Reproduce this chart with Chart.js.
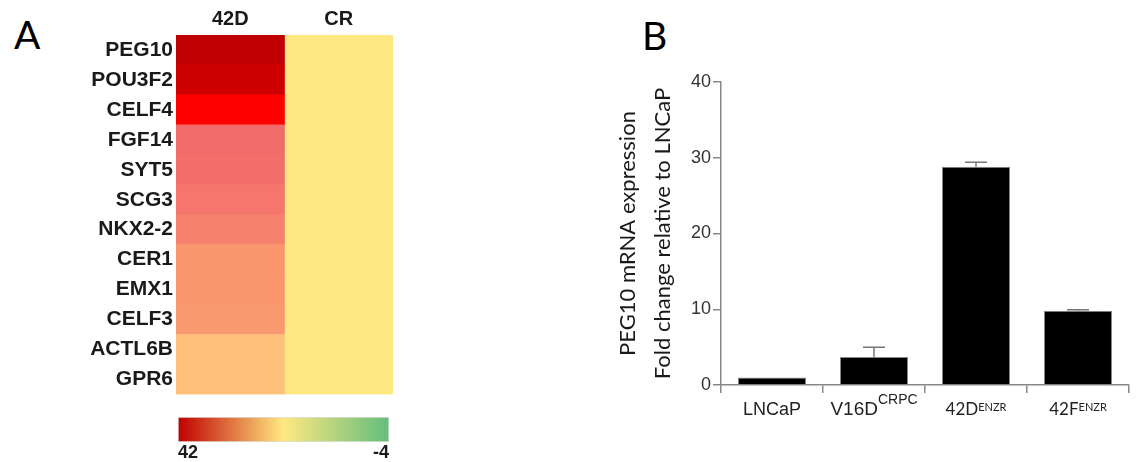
<!DOCTYPE html>
<html>
<head>
<meta charset="utf-8">
<script src="https://cdn.jsdelivr.net/npm/chart.js@4"></script>
<style>
  body { margin: 0; background: #fff; }
  #wrap { position: relative; width: 1140px; height: 462px; overflow: hidden; }
  canvas { position: absolute; }
  .panel { position: absolute; font-family: Lato, sans-serif; font-size: 39px; line-height: 1; color: #000; }
</style>
</head>
<body>
<div id="wrap">
  <div class="panel" style="left:14px;top:15px">A</div>
  <div class="panel" style="left:642px;top:16px">B</div>
  <canvas id="heat" width="400" height="410" style="left:0;top:0"></canvas>
  <canvas id="scaleBar" width="230" height="57" style="left:170px;top:405px"></canvas>
  <canvas id="bars" width="540" height="462" style="left:600px;top:0"></canvas>
</div>
<script>
// panel A - heatmap
const genes = ["PEG10","POU3F2","CELF4","FGF14","SYT5","SCG3","NKX2-2","CER1","EMX1","CELF3","ACTL6B","GPR6"];
const heatCols = ["42D","CR"];
const fold42D = [42,40,33,27,26.5,25,23,19,19,18.5,12,12];
const foldCR = [1,1,1,1,1,1,1,1,1,1,1,1];
const scaleMax = 42, scaleMin = -4;

// panel B - bars
const lines = ["LNCaP","V16D","42D","42F"];
const lineSup = ["","CRPC","ENZR","ENZR"];
const pegFold = [1.0,3.7,28.8,9.8];
const pegErr = [0,1.3,0.6,0.15];
const yTicks = [0,10,20,30,40];

// colour map of the heatmap cells (value -> colour)
const heatStops = [[42,"#c00000"],[33,"#ff0000"],[27,"#f26b6b"],[19,"#f9966e"],[12,"#fdc07b"],[1,"#ffe882"],[-4,"#63be7b"]];

function hex(c){ return [1,3,5].map(i=>parseInt(c.substr(i,2),16)); }
function heatColor(v){
    for(let i=0;i<heatStops.length-1;i++){
        const [v0,c0]=heatStops[i], [v1,c1]=heatStops[i+1];
        if(v<=v0 && v>=v1){
            const t=(v0-v)/(v0-v1), a=hex(c0), b=hex(c1);
            return "rgb("+a.map((x,k)=>Math.round(x+(b[k]-x)*t)).join(",")+")";
        }
    }
    return v>heatStops[0][0] ? heatStops[0][1] : heatStops[heatStops.length-1][1];
}

const boldFont = {family:"'Liberation Sans', Arial, sans-serif", weight:"bold"};

new Chart(document.getElementById("heat"),{
    type:"bar",
    data:{
        labels:genes,
        datasets:[
            {label:heatCols[0], data:genes.map(()=>[0,1]), backgroundColor:fold42D.map(heatColor)},
            {label:heatCols[1], data:genes.map(()=>[1,2]), backgroundColor:foldCR.map(heatColor)}
        ]
    },
    options:{
        indexAxis:"y",
        responsive:false,
        animation:false,
        layout:{padding:{left:0,right:7,top:0,bottom:3}},
        plugins:{legend:{display:false},tooltip:{enabled:false}},
        datasets:{bar:{grouped:false,barPercentage:1,categoryPercentage:1,borderWidth:0}},
        scales:{
            x:{
                position:"top", min:0, max:2,
                grid:{display:false,drawTicks:false}, border:{display:false},
                afterBuildTicks:ax=>{ ax.ticks=heatCols.map((c,i)=>({value:i+0.5})); },
                afterFit:ax=>{ ax.height=35; },
                ticks:{padding:4, color:"#1a1a1a", font:{...boldFont,size:20}, callback:v=>heatCols[Math.floor(v)]}
            },
            y:{
                grid:{display:false,drawTicks:false}, border:{display:false},
                afterFit:ax=>{ ax.width=176; },
                ticks:{autoSkip:false, padding:3, color:"#1a1a1a", font:{...boldFont,size:21}}
            }
        }
    }
});

// colour key under the heatmap
new Chart(document.getElementById("scaleBar"),{
    type:"bar",
    data:{
        labels:["key"],
        datasets:[{
            data:[[scaleMin,scaleMax]],
            borderWidth:1, borderColor:"#dddddd", borderSkipped:false,
            backgroundColor:ctx=>{
                const area=ctx.chart.chartArea;
                if(!area) return "#ffe882";
                const g=ctx.chart.ctx.createLinearGradient(area.left,0,area.right,0);
                g.addColorStop(0,"#c00000");
                g.addColorStop(0.5,"#ffe882");
                g.addColorStop(1,"#63be7b");
                return g;
            }
        }]
    },
    options:{
        indexAxis:"y",
        responsive:false,
        animation:false,
        layout:{padding:{left:8,right:11,top:12,bottom:0}},
        plugins:{legend:{display:false},tooltip:{enabled:false}},
        datasets:{bar:{barPercentage:1,categoryPercentage:1}},
        scales:{
            y:{display:false},
            x:{
                min:scaleMin, max:scaleMax, reverse:true,
                grid:{display:false,drawTicks:false}, border:{display:false},
                afterBuildTicks:ax=>{ ax.ticks=[{value:scaleMin},{value:scaleMax}]; },
                afterFit:ax=>{ ax.height=20; },
                ticks:{align:"inner", padding:0, color:"#1a1a1a", font:{...boldFont,size:18}}
            }
        }
    }
});

// panel B
const labelStyle = [
    {font:"18px 'Liberation Sans', Arial, sans-serif", sup:"14px 'Liberation Sans', Arial, sans-serif", rise:11},
    {font:"19px 'Liberation Sans', Arial, sans-serif", sup:"14px 'Liberation Sans', Arial, sans-serif", rise:11},
    {font:"17px Lato, sans-serif", sup:"11px Lato, sans-serif", rise:4},
    {font:"17px Lato, sans-serif", sup:"11px Lato, sans-serif", rise:4}
];

const errorBars = {
    id:"errorBars",
    afterDatasetsDraw(chart){
        const ctx=chart.ctx, ys=chart.scales.y;
        chart.getDatasetMeta(0).data.forEach((bar,i)=>{
            if(!pegErr[i]) return;
            const top=ys.getPixelForValue(pegFold[i]+pegErr[i]);
            ctx.save();
            ctx.strokeStyle="#777";
            ctx.lineWidth=1.5;
            ctx.beginPath();
            ctx.moveTo(bar.x,bar.y);
            ctx.lineTo(bar.x,top);
            ctx.moveTo(bar.x-11,top);
            ctx.lineTo(bar.x+11,top);
            ctx.stroke();
            ctx.restore();
        });
    }
};

const supLabels = {
    id:"supLabels",
    afterDraw(chart){
        const ctx=chart.ctx, xs=chart.scales.x;
        const base=xs.top+30;
        lines.forEach((name,i)=>{
            const st=labelStyle[i];
            ctx.save();
            ctx.fillStyle="#222";
            ctx.textBaseline="alphabetic";
            ctx.textAlign="left";
            ctx.font=st.font;
            const w1=ctx.measureText(name).width;
            ctx.font=st.sup;
            const w2=lineSup[i] ? ctx.measureText(lineSup[i]).width : 0;
            const x0=xs.getPixelForTick(i)-(w1+w2)/2;
            ctx.font=st.font;
            ctx.fillText(name,x0,base);
            if(lineSup[i]){
                ctx.font=st.sup;
                ctx.fillText(lineSup[i],x0+w1,base-st.rise);
            }
            ctx.restore();
        });
    }
};

new Chart(document.getElementById("bars"),{
    type:"bar",
    data:{
        labels:lines,
        datasets:[{
            label:"PEG10",
            data:pegFold,
            backgroundColor:"#000",
            borderColor:"#888",
            borderWidth:1,
            barPercentage:0.667,
            categoryPercentage:1
        }]
    },
    options:{
        responsive:false,
        animation:false,
        layout:{padding:{left:0,right:11,top:82,bottom:0}},
        plugins:{legend:{display:false},tooltip:{enabled:false}},
        scales:{
            x:{
                grid:{display:true,drawOnChartArea:false,drawTicks:true,tickLength:8,color:"#888",lineWidth:1.5},
                border:{color:"#888",width:1.5},
                afterFit:ax=>{ ax.height=77; },
                ticks:{callback:()=>""}
            },
            y:{
                min:0, max:40,
                afterBuildTicks:ax=>{ ax.ticks=yTicks.map(v=>({value:v})); },
                afterFit:ax=>{ ax.width=121; },
                grid:{display:true,drawOnChartArea:false,drawTicks:true,tickLength:8,color:"#888",lineWidth:1.5},
                border:{color:"#888",width:1.5},
                ticks:{padding:2, color:"#333", font:{family:"'Liberation Sans', Arial, sans-serif",size:18}},
                title:{
                    display:true,
                    text:["PEG10 mRNA expression","Fold change relative to LNCaP"],
                    color:"#1a1a1a",
                    font:{family:"Lato, sans-serif",size:22,lineHeight:1.58},
                    padding:{top:11,bottom:0}
                }
            }
        }
    },
    plugins:[errorBars,supLabels]
});
</script>
</body>
</html>
